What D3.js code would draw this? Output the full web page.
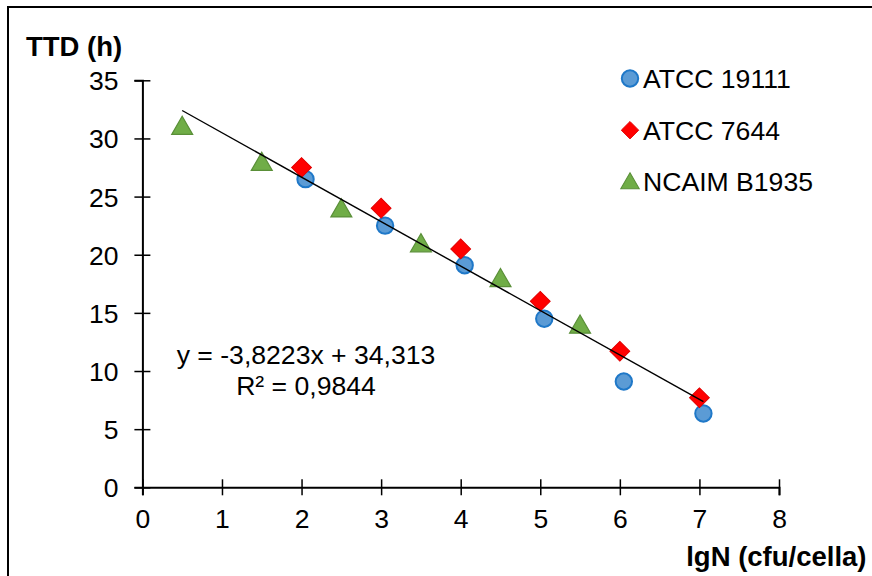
<!DOCTYPE html>
<html>
<head>
<meta charset="utf-8">
<script src="https://cdn.jsdelivr.net/npm/d3@7"></script>
<style>
  html, body { margin: 0; padding: 0; background: #fff; }
  svg { display: block; font-family: "Liberation Sans", Arial, sans-serif; }
</style>
</head>
<body>
<div id="chart"></div>
<script>
// data
const seriesNames = ['ATCC 19111', 'ATCC 7644', 'NCAIM B1935'];
const atcc19111X = [2.05, 3.05, 4.05, 5.05, 6.05, 7.05];
const atcc19111Y = [26.5, 22.5, 19.1, 14.5, 9.1, 6.35];
const atcc7644X = [2, 3, 4, 5, 6, 7];
const atcc7644Y = [27.5, 24.0, 20.5, 16.0, 11.7, 7.7];
const ncaimX = [0.5, 1.5, 2.5, 3.5, 4.5, 5.5];
const ncaimY = [31.0, 27.9, 23.9, 20.9, 17.9, 13.9];
const xTicks = [0, 1, 2, 3, 4, 5, 6, 7, 8];
const yTicks = [0, 5, 10, 15, 20, 25, 30, 35];
const slope = -3.8223, intercept = 34.313, r2 = '0,9844';

const W = 872, H = 576;
const svg = d3.select('#chart').append('svg').attr('width', W).attr('height', H);

// chart frame (runs off right/bottom like the source)
svg.append('rect').attr('x', 8).attr('y', 7).attr('width', 900).attr('height', 600)
  .attr('fill', 'none').attr('stroke', '#000').attr('stroke-width', 2);

const x = d3.scaleLinear().domain([0, 8]).range([142.4, 779]);
const y = d3.scaleLinear().domain([0, 35]).range([487.3, 80.3]);

const yAxis = svg.append('g').attr('transform', `translate(${x(0)},0)`)
  .call(d3.axisLeft(y).tickValues(yTicks).tickSize(8).tickPadding(0));
yAxis.select('.domain').attr('stroke', '#000').attr('stroke-width', 2);
yAxis.selectAll('.tick line').attr('x1', 8).attr('stroke', '#000').attr('stroke-width', 1.5);
yAxis.selectAll('.tick text').attr('x', -24).attr('dy', '0.36em')
  .attr('font-size', 26.5).attr('fill', '#000').attr('font-family', null);

const xAxis = svg.append('g').attr('transform', `translate(0,${y(0)})`)
  .call(d3.axisBottom(x).tickValues(xTicks).tickSize(8).tickPadding(0));
xAxis.select('.domain').attr('stroke', '#000').attr('stroke-width', 2);
xAxis.selectAll('.tick line').attr('y1', -8).attr('stroke', '#000').attr('stroke-width', 1.5);
xAxis.selectAll('.tick text').attr('y', 40.4).attr('dy', 0)
  .attr('font-size', 26.5).attr('fill', '#000').attr('font-family', null);

// axis titles
svg.append('text').attr('x', 26).attr('y', 56).attr('font-size', 27.5).attr('font-weight', 'bold')
  .text('TTD (h)');
svg.append('text').attr('x', 866.5).attr('y', 566).attr('text-anchor', 'end')
  .attr('font-size', 27.5).attr('font-weight', 'bold').text('lgN (cfu/cella)');

// markers
const circleSym = d3.symbol().type(d3.symbolCircle).size(Math.PI * 8.2 * 8.2);
const diamondSym = d3.symbol().type(d3.symbolSquare).size(14 * 14);
const triSym = d3.symbol().type(d3.symbolTriangle).size(190);

const series = [
  { name: seriesNames[0], xs: atcc19111X, ys: atcc19111Y, path: circleSym, rot: 0, fill: '#5B9BD5', stroke: '#1F78C8', sw: 2, dy: 0, legendScale: 1 },
  { name: seriesNames[1], xs: atcc7644X, ys: atcc7644Y, path: diamondSym, rot: 45, fill: '#FF0000', stroke: '#E00000', sw: 1, dy: 0, legendScale: 0.88 },
  { name: seriesNames[2], xs: ncaimX, ys: ncaimY, path: triSym, rot: 0, fill: '#70AD47', stroke: '#5A8F38', sw: 1.2, dy: 1.5, legendScale: 0.88 }
];

series.forEach(s => {
  svg.append('g').selectAll('path')
    .data(s.xs.map((v, i) => [v, s.ys[i]]))
    .join('path')
    .attr('d', s.path())
    .attr('transform', d => `translate(${x(d[0])},${y(d[1]) + s.dy}) rotate(${s.rot})`)
    .attr('fill', s.fill).attr('stroke', s.stroke).attr('stroke-width', s.sw);
});

// linear trendline across the combined data
const allX = [...atcc19111X, ...atcc7644X, ...ncaimX];
const [x0, x1] = d3.extent(allX);
svg.append('line')
  .attr('x1', x(x0)).attr('y1', y(slope * x0 + intercept))
  .attr('x2', x(x1)).attr('y2', y(slope * x1 + intercept))
  .attr('stroke', '#000').attr('stroke-width', 1.4);

// trendline label
const fmt = v => String(v).replace('.', ',');
const eq = svg.append('text').attr('text-anchor', 'middle').attr('font-size', 26.6);
eq.append('tspan').attr('x', 306).attr('y', 363.5)
  .text(`y = ${fmt(slope)}x + ${fmt(intercept)}`);
eq.append('tspan').attr('x', 306).attr('y', 394.5).text(`R² = ${r2}`);

// legend
const legend = svg.append('g').selectAll('g').data(series).join('g')
  .attr('transform', (d, i) => `translate(630,${78.5 + i * 51.7})`);
legend.append('path')
  .attr('d', d => d.path())
  .attr('transform', d => `translate(0,${d.dy}) rotate(${d.rot}) scale(${d.legendScale})`)
  .attr('fill', d => d.fill).attr('stroke', d => d.stroke).attr('stroke-width', d => d.sw);
legend.append('text').attr('x', 13).attr('dy', '0.36em').attr('font-size', 26.6)
  .text(d => d.name);
</script>
</body>
</html>
